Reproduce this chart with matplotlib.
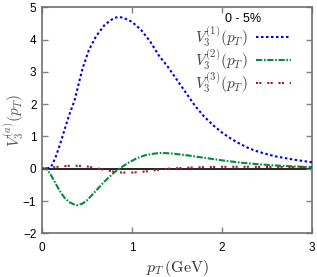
import matplotlib
matplotlib.use("Agg")
import matplotlib.pyplot as plt

plt.rcParams['mathtext.fontset'] = 'cm'
plt.rcParams['font.family'] = ['Liberation Sans', 'DejaVu Sans']

pt_blue = [0.0, 0.05, 0.1, 0.15, 0.2, 0.25, 0.3, 0.36, 0.45, 0.52, 0.6, 0.7, 0.8, 0.85, 0.9,
           1.0, 1.1, 1.2, 1.3, 1.4, 1.5, 1.6, 1.7, 1.8, 1.9, 2.0, 2.1, 2.2, 2.3, 2.4, 2.5,
           2.6, 2.7, 2.8, 2.9, 3.0]
v1 = [0.0, 0.0, 0.05, 0.35, 0.75, 1.2, 1.65, 2.1, 3.1, 3.67, 4.1, 4.47, 4.67, 4.7, 4.68,
      4.55, 4.3, 3.95, 3.5, 3.15, 2.75, 2.35, 1.95, 1.62, 1.35, 1.12, 0.93, 0.77, 0.63, 0.53, 0.45,
      0.38, 0.33, 0.28, 0.24, 0.2]

pt_green = [0.0, 0.05, 0.1, 0.15, 0.2, 0.25, 0.3, 0.35, 0.39, 0.45, 0.5, 0.6, 0.7, 0.8, 0.86,
            0.95, 1.05, 1.15, 1.25, 1.33, 1.45, 1.6, 1.8, 2.0, 2.2, 2.4, 2.6, 2.8, 3.0]
v2 = [0.0, 0.0, -0.2, -0.45, -0.7, -0.9, -1.03, -1.1, -1.13, -1.08, -0.98, -0.68, -0.38, -0.12, 0.0,
      0.17, 0.32, 0.42, 0.47, 0.49, 0.47, 0.42, 0.34, 0.26, 0.19, 0.14, 0.1, 0.07, 0.05]

pt_red = [0.0, 0.1, 0.2, 0.3, 0.4, 0.5, 0.6, 0.7, 0.8, 0.9, 1.0, 1.1, 1.2, 1.3, 1.4,
          1.6, 1.8, 2.0, 2.3, 2.6, 3.0]
v3 = [0.0, 0.03, 0.07, 0.09, 0.09, 0.07, 0.02, -0.04, -0.09, -0.12, -0.12, -0.1, -0.07, -0.03, 0.0,
      0.03, 0.05, 0.06, 0.06, 0.05, 0.05]

labels = [r'$V_3^{(1)}(p_T)$', r'$V_3^{(2)}(p_T)$', r'$V_3^{(3)}(p_T)$']
legend_title = '0 - 5%'

fig = plt.figure(figsize=(3.17, 2.77), dpi=100)
ax = fig.add_axes([0.1325, 0.1578, 0.8517, 0.8158])

ax.axhline(0, color='black', lw=1.2, zorder=1)
ax.plot(pt_blue, v1, color='#0000e6', lw=1.5, linestyle=(0, (1.2, 1.2)), label=labels[0], zorder=3)
ax.plot(pt_green, v2, color='#008c3c', lw=1.5, linestyle=(0, (3.0, 0.8, 0.8, 0.8)), label=labels[1], zorder=3)
ax.plot(pt_red, v3, color='#a01e1e', lw=1.5, linestyle=(0, (1.0, 0.6, 1.0, 2.8)), label=labels[2], zorder=3)

ax.set_xlim(0, 3)
ax.set_ylim(-2, 5)
ax.set_xticks([0, 1, 2, 3])
ax.set_yticks(range(-2, 6))
ax.tick_params(direction='in', length=4, width=1, color='#808080', top=True, right=True,
               labelsize=8.5)
ax.tick_params(axis='x', pad=6)
ax.tick_params(axis='y', pad=4)
for s in ax.spines.values():
    s.set_color('#707070')
    s.set_linewidth(1.2)

ax.set_xlabel(r'$p_T\,(\mathrm{GeV})$', fontsize=11.5, color='#333333', labelpad=3)
ax.set_ylabel(r'$V_3^{(a)}(p_T)$', fontsize=11, color='#555555', va='center')
ax.yaxis.set_label_coords(-0.104, 0.5)

leg = ax.legend(title=legend_title, loc='upper right', frameon=False, markerfirst=False,
                fontsize=11, title_fontsize=9, handlelength=2.3, handletextpad=0.55,
                labelspacing=-0.12, borderaxespad=0.0, borderpad=0.4,
                bbox_to_anchor=(0.945, 1.0))
for t in leg.get_texts():
    t.set_color('#444444')

fig.savefig('out.png', dpi=100)
